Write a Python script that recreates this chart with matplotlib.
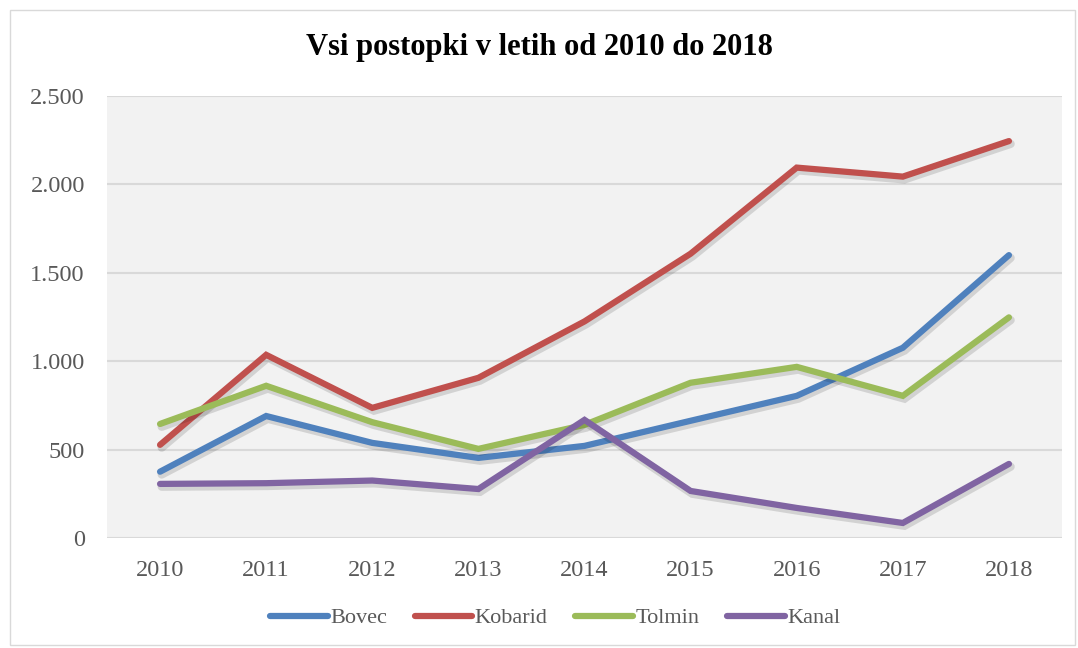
import matplotlib.pyplot as plt
import matplotlib.patheffects as pe
from matplotlib.patches import Rectangle
from matplotlib.ticker import FuncFormatter

years = ['2010', '2011', '2012', '2013', '2014', '2015', '2016', '2017', '2018']
bovec = [375, 690, 538, 453, 521, 663, 804, 1076, 1600]
kobarid = [527, 1036, 736, 906, 1225, 1608, 2095, 2044, 2245]
tolmin = [645, 861, 655, 504, 640, 878, 968, 804, 1248]
kanal = [306, 310, 325, 277, 668, 266, 170, 85, 419]

series = [('Bovec', bovec, '#4F81BD'),
          ('Kobarid', kobarid, '#C0504D'),
          ('Tolmin', tolmin, '#9BBB59'),
          ('Kanal', kanal, '#8064A2')]

plt.rcParams['font.family'] = ['Liberation Serif', 'DejaVu Serif']

fig = plt.figure(figsize=(10.78, 6.48), dpi=100)
# outer chart border
fig.patches.append(Rectangle((10 / 1078, 3 / 648), 1065 / 1078, 635 / 648,
                             transform=fig.transFigure, fill=False,
                             edgecolor='#D9D9D9', linewidth=1))

ax = fig.add_axes([107 / 1078, 1 - 538 / 648, 955 / 1078, 442 / 648])
ax.set_facecolor('#F2F2F2')

x = list(range(len(years)))
shadow = [pe.SimpleLineShadow(offset=(1.2, -2.0), shadow_color='black', alpha=0.13, linewidth=6),
          pe.Normal()]
for name, vals, col in series:
    ax.plot(x, vals, color=col, linewidth=4.5, solid_capstyle='round',
            solid_joinstyle='miter', label=name, path_effects=shadow)

ax.set_xlim(-0.5, len(years) - 0.5)
ax.set_ylim(0, 2500)
ax.set_yticks(range(0, 2501, 500))
ax.yaxis.set_major_formatter(FuncFormatter(lambda v, p: f'{int(v):,}'.replace(',', '.')))
ax.set_xticks(x)
ax.set_xticklabels(years)
ax.grid(axis='y', color='#D9D9D9', linewidth=1.5)
ax.set_axisbelow(True)
for s in ax.spines.values():
    s.set_visible(False)
ax.tick_params(length=0, labelsize=17.5, labelcolor='#595959')
ax.tick_params(axis='y', pad=16)
ax.tick_params(axis='x', pad=16)

fig.text(0.5, 1 - 47 / 648, 'Vsi postopki v letih od 2010 do 2018', ha='center', va='center',
         fontsize=22, fontweight='bold', color='black')

leg = fig.legend(loc='center', bbox_to_anchor=(555 / 1078, 1 - 618 / 648), ncol=4, frameon=False,
                 fontsize=16, handlelength=2.6, handletextpad=0.1, columnspacing=1.25,
                 labelcolor='#595959')
for ln in leg.get_lines():
    ln.set_path_effects([])
    ln.set_solid_capstyle('round')

fig.savefig('out.png', dpi=100)
